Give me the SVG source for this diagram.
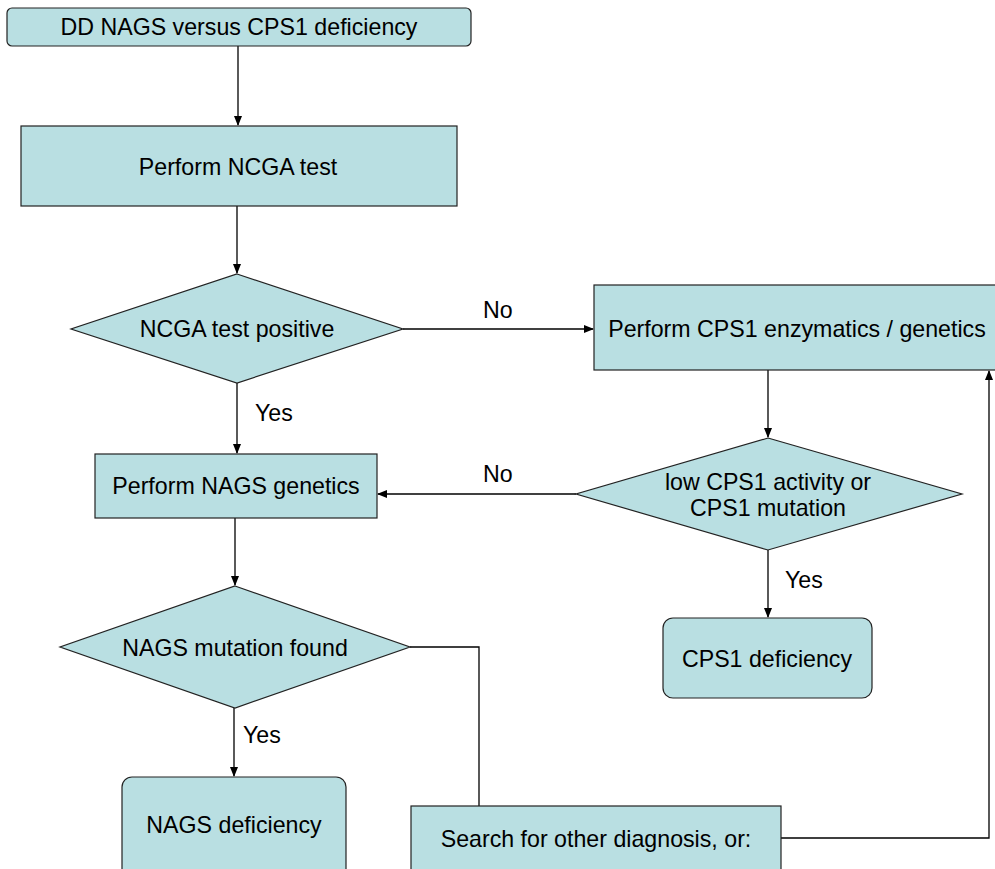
<svg xmlns="http://www.w3.org/2000/svg" width="995" height="869" viewBox="0 0 995 869">
<defs>
<marker id="ah" markerWidth="10" markerHeight="10" refX="9" refY="5" orient="auto" markerUnits="userSpaceOnUse">
<path d="M0,1 L10,5 L0,9 Z" fill="#000"/>
</marker>
<style>
.n{fill:#b9dfe2;stroke:#222;stroke-width:1.2}
.t{font-family:"Liberation Sans",Arial,sans-serif;font-size:23.2px;fill:#000;text-anchor:middle}
.l{font-family:"Liberation Sans",Arial,sans-serif;font-size:23.2px;fill:#000}
.c{fill:none;stroke:#000;stroke-width:1.3}
</style>
</defs>
<rect width="995" height="869" fill="#fff"/>
<g id="connectors">
<line class="c" x1="238" y1="46" x2="238" y2="125" marker-end="url(#ah)"/>
<line class="c" x1="237" y1="206" x2="237" y2="273" marker-end="url(#ah)"/>
<line class="c" x1="403" y1="329" x2="593" y2="329" marker-end="url(#ah)"/>
<line class="c" x1="237" y1="383" x2="237" y2="453" marker-end="url(#ah)"/>
<line class="c" x1="768" y1="370" x2="768" y2="437" marker-end="url(#ah)"/>
<line class="c" x1="576" y1="494" x2="378" y2="494" marker-end="url(#ah)"/>
<line class="c" x1="768" y1="550" x2="768" y2="617" marker-end="url(#ah)"/>
<line class="c" x1="235" y1="518" x2="235" y2="585" marker-end="url(#ah)"/>
<line class="c" x1="234" y1="708" x2="234" y2="776" marker-end="url(#ah)"/>
<polyline class="c" points="410,647 479,647 479,806"/>
<polyline class="c" points="781,838 989,838 989,371" marker-end="url(#ah)"/>
<text class="l" x="483" y="318">No</text>
<text class="l" x="255" y="421">Yes</text>
<text class="l" x="483" y="482">No</text>
<text class="l" x="785" y="588">Yes</text>
<text class="l" x="243" y="743">Yes</text>
</g>
<g id="start">
<rect class="n" x="7" y="8" width="464" height="38" rx="5"/>
<text class="t" x="239" y="35">DD NAGS versus CPS1 deficiency</text>
</g>
<g id="ncga-test">
<rect class="n" x="21" y="126" width="436" height="80"/>
<text class="t" x="238" y="175">Perform NCGA test</text>
</g>
<g id="ncga-positive">
<polygon class="n" points="237,274 403,329 237,383 71,329"/>
<text class="t" x="237" y="337">NCGA test positive</text>
</g>
<g id="cps1-test">
<rect class="n" x="594" y="285" width="410" height="85"/>
<text class="t" x="797" y="337">Perform CPS1 enzymatics / genetics</text>
</g>
<g id="nags-genetics">
<rect class="n" x="95" y="454" width="282" height="64"/>
<text class="t" x="236" y="494">Perform NAGS genetics</text>
</g>
<g id="cps1-decision">
<polygon class="n" points="768,438 962,494 768,550 576,494"/>
<text class="t" x="768" y="490">low CPS1 activity or</text>
<text class="t" x="768" y="516">CPS1 mutation</text>
</g>
<g id="cps1-deficiency">
<rect class="n" x="663" y="618" width="209" height="80" rx="10"/>
<text class="t" x="767" y="667">CPS1 deficiency</text>
</g>
<g id="nags-mutation">
<polygon class="n" points="235,586 410,647 235,708 60,647"/>
<text class="t" x="235" y="656">NAGS mutation found</text>
</g>
<g id="nags-deficiency">
<rect class="n" x="122" y="777" width="224" height="110" rx="10"/>
<text class="t" x="234" y="833">NAGS deficiency</text>
</g>
<g id="search-other">
<rect class="n" x="411" y="806" width="370" height="80"/>
<text class="t" x="596" y="847">Search for other diagnosis, or:</text>
</g>
</svg>
